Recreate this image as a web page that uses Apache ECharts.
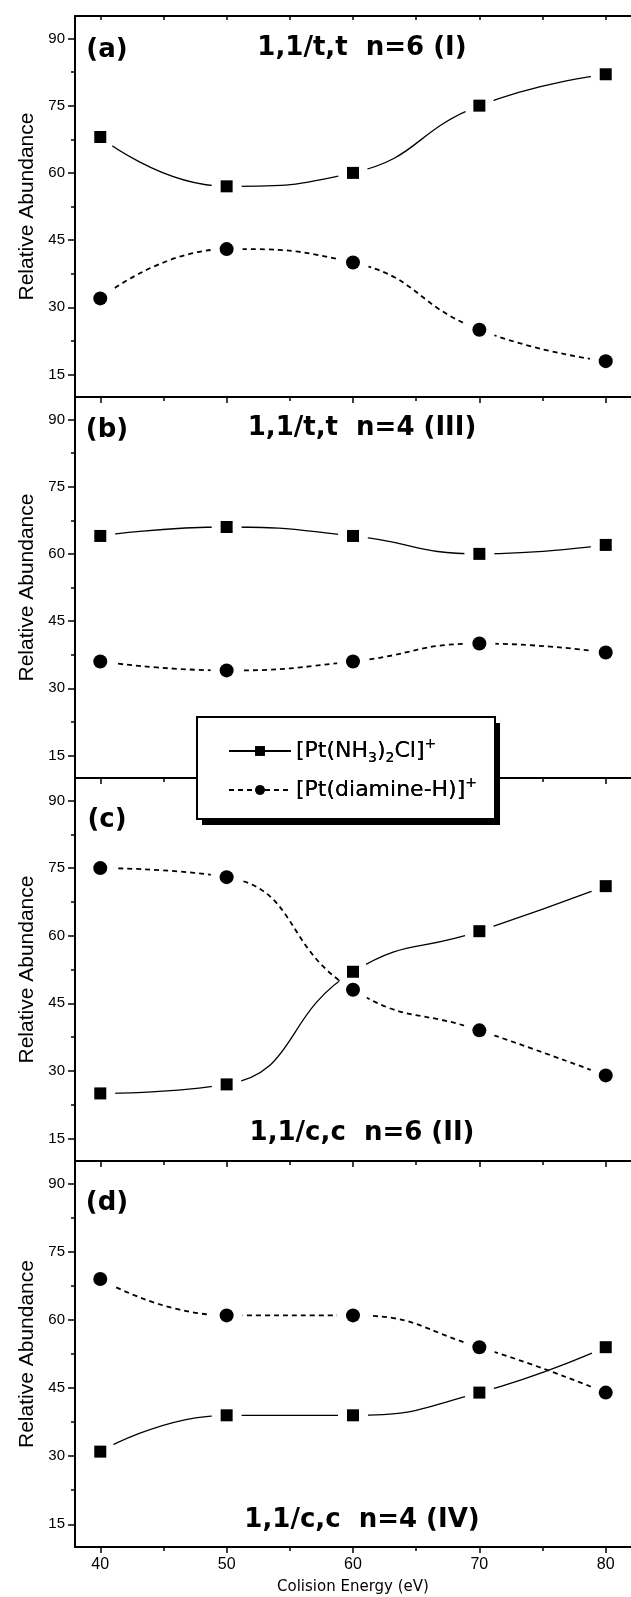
<!DOCTYPE html>
<html>
<head>
<meta charset="utf-8">
<script src="https://cdn.jsdelivr.net/npm/echarts@6/dist/echarts.min.js"></script>
<style>
html, body { margin: 0; padding: 0; background: #fff; }
#chart { width: 631px; height: 1597px; }
</style>
</head>
<body>
<div id="chart"></div>
<script>
// collision energies (eV)
const energies = [40, 50, 60, 70, 80];

const panelLetters = ['(a)', '(b)', '(c)', '(d)'];
const panelTitles = ['1,1/t,t  n=6 (I)', '1,1/t,t  n=4 (III)', '1,1/c,c  n=6 (II)', '1,1/c,c  n=4 (IV)'];

// [Pt(NH3)2Cl]+ relative abundance, one row per panel
const chlorideValues = [
  [68, 57, 60, 75, 82],
  [64, 66, 64, 60, 62],
  [25, 27, 52, 61, 71],
  [31, 39, 39, 44, 54]
];
// [Pt(diamine-H)]+ relative abundance
const diamineValues = [
  [32, 43, 40, 25, 18],
  [36, 34, 36, 40, 38],
  [75, 73, 48, 39, 29],
  [69, 61, 61, 54, 44]
];

const yTicks = [15, 30, 45, 60, 75, 90];
const yMinorTicks = [22.5, 37.5, 52.5, 67.5, 82.5];
const xTicks = [40, 50, 60, 70, 80];
const xMinorTicks = [45, 55, 65, 75];
const xAllTicks = [40, 45, 50, 55, 60, 65, 70, 75, 80];

const seriesNames = ['[Pt(NH3)2Cl]+', '[Pt(diamine-H)]+'];
const legendRich = {
  '[Pt(NH3)2Cl]+': '{t|[Pt(NH}{sub|3}{t|)}{sub|2}{t|Cl]}{sup|+}',
  '[Pt(diamine-H)]+': '{t|[Pt(diamine-H)]}{sup|+}'
};

// layout
const panelTop = [16, 397, 778, 1161];
const panelHeight = [381, 381, 383, 386];
const titleY = [48, 428, 1133, 1520];
const letterY = [50, 430, 820, 1203];
const gridLeft = 75;
const gridWidth = 557;

const chart = echarts.init(document.getElementById('chart'), null, { renderer: 'canvas' });

const grids = [];
const xAxes = [];
const yAxes = [];
const series = [];
const titles = [];

const black = '#000';
const sansFont = 'Liberation Sans';

for (let i = 0; i < 4; i++) {
  grids.push({ left: gridLeft, width: gridWidth, top: panelTop[i], height: panelHeight[i] });

  const last = i === 3;
  const xMain = xAxes.length;
  xAxes.push({
    type: 'value', gridIndex: i, min: 38, max: 82, position: 'bottom',
    axisLine: { show: true, onZero: false, lineStyle: { color: black, width: 2 } },
    axisTick: { show: true, customValues: xTicks, length: 6, lineStyle: { color: black, width: 1.5 } },
    axisLabel: { show: last, customValues: xTicks, fontSize: 16, color: black, margin: 10, fontFamily: sansFont },
    splitLine: { show: false },
    name: last ? 'Colision Energy (eV)' : '',
    nameLocation: 'middle', nameGap: 33,
    nameTextStyle: { fontSize: 15, color: black, fontFamily: 'DejaVu Sans' }
  });
  xAxes.push({
    type: 'value', gridIndex: i, min: 38, max: 82, position: 'bottom',
    axisLine: { show: false, onZero: false },
    axisTick: { show: true, customValues: xMinorTicks, length: 4, lineStyle: { color: black, width: 1.5 } },
    axisLabel: { show: false },
    splitLine: { show: false }
  });
  if (i === 0) {
    xAxes.push({
      type: 'value', gridIndex: 0, min: 38, max: 82, position: 'top',
      axisLine: { show: true, onZero: false, lineStyle: { color: black, width: 2 } },
      axisTick: { show: true, inside: true, customValues: xAllTicks, length: 4, lineStyle: { color: black, width: 1.5 } },
      axisLabel: { show: false },
      splitLine: { show: false }
    });
  }

  const yMain = yAxes.length;
  yAxes.push({
    type: 'value', gridIndex: i, min: 10, max: 95, position: 'left',
    axisLine: { show: true, onZero: false, lineStyle: { color: black, width: 2 } },
    axisTick: { show: true, customValues: yTicks, length: 7, lineStyle: { color: black, width: 1.5 } },
    axisLabel: { customValues: yTicks, fontSize: 15, color: black, margin: 10, fontFamily: sansFont },
    splitLine: { show: false },
    name: 'Relative Abundance', nameLocation: 'middle', nameGap: 33,
    nameTextStyle: { fontSize: 21, color: black, fontFamily: sansFont }
  });
  yAxes.push({
    type: 'value', gridIndex: i, min: 10, max: 95, position: 'left',
    axisLine: { show: false, onZero: false },
    axisTick: { show: true, customValues: yMinorTicks, length: 4, lineStyle: { color: black, width: 1.5 } },
    axisLabel: { show: false },
    splitLine: { show: false }
  });

  const sq = energies.map((e, k) => [e, chlorideValues[i][k]]);
  const ci = energies.map((e, k) => [e, diamineValues[i][k]]);
  const axes = { xAxisIndex: xMain, yAxisIndex: yMain };

  // solid spline, then white halo to open gaps at markers (Origin style)
  series.push({
    ...axes, name: seriesNames[0], type: 'line', data: sq, smooth: true,
    symbol: 'rect', symbolSize: 12, showSymbol: false, z: 2,
    lineStyle: { color: black, width: 1.3 }, itemStyle: { color: black }
  });
  series.push({
    ...axes, type: 'scatter', data: sq, symbol: 'circle', symbolSize: 30, silent: true, z: 3,
    itemStyle: { color: '#fff', opacity: 1 }
  });
  series.push({
    ...axes, name: seriesNames[1], type: 'line', data: ci, smooth: true,
    symbol: 'circle', symbolSize: 14, showSymbol: false, z: 4,
    lineStyle: { color: black, width: 1.8, type: [5, 4] }, itemStyle: { color: black }
  });
  series.push({
    ...axes, type: 'scatter', data: ci, symbol: 'circle', symbolSize: 32, silent: true, z: 5,
    itemStyle: { color: '#fff', opacity: 1 }
  });
  series.push({
    ...axes, type: 'scatter', data: sq, symbol: 'rect', symbolSize: 12, z: 6,
    itemStyle: { color: black, opacity: 1 }
  });
  series.push({
    ...axes, type: 'scatter', data: ci, symbol: 'circle', symbolSize: 14, z: 6,
    itemStyle: { color: black, opacity: 1 }
  });

  titles.push({
    text: panelLetters[i], left: 107, top: letterY[i], padding: 0,
    textAlign: 'center', textVerticalAlign: 'middle',
    textStyle: { fontSize: 26, fontWeight: 'bold', color: black, fontFamily: 'DejaVu Sans' }
  });
  titles.push({
    text: panelTitles[i], left: 362, top: titleY[i], padding: 0,
    textAlign: 'center', textVerticalAlign: 'middle',
    textStyle: { fontSize: 26, fontWeight: 'bold', color: black, fontFamily: 'DejaVu Sans' }
  });
}

// legend box: the first copy paints the white box with its drop shadow,
// the second copy (same layout) adds the frame on top without a shadow
const legendBase = {
  orient: 'vertical', left: 197, top: 717,
  padding: [20, 18, 18, 31], itemGap: 11, itemWidth: 62, itemHeight: 12,
  data: seriesNames,
  formatter: name => legendRich[name],
  textStyle: {
    color: black,
    rich: {
      t: { fontSize: 22, lineHeight: 28, color: black, fontFamily: 'DejaVu Sans' },
      sub: { fontSize: 14, color: black, fontFamily: 'DejaVu Sans', verticalAlign: 'bottom' },
      sup: { fontSize: 14, color: black, fontFamily: 'DejaVu Sans', verticalAlign: 'top' }
    }
  }
};

const option = {
  backgroundColor: '#fff',
  animation: false,
  title: titles,
  legend: [
    {
      ...legendBase, z: 20,
      backgroundColor: '#fff', borderWidth: 0,
      shadowColor: black, shadowBlur: 0, shadowOffsetX: 5, shadowOffsetY: 6
    },
    {
      ...legendBase, z: 21,
      backgroundColor: 'transparent', borderColor: black, borderWidth: 2
    }
  ],
  grid: grids,
  xAxis: xAxes,
  yAxis: yAxes,
  series
};

chart.setOption(option);
</script>
</body>
</html>
